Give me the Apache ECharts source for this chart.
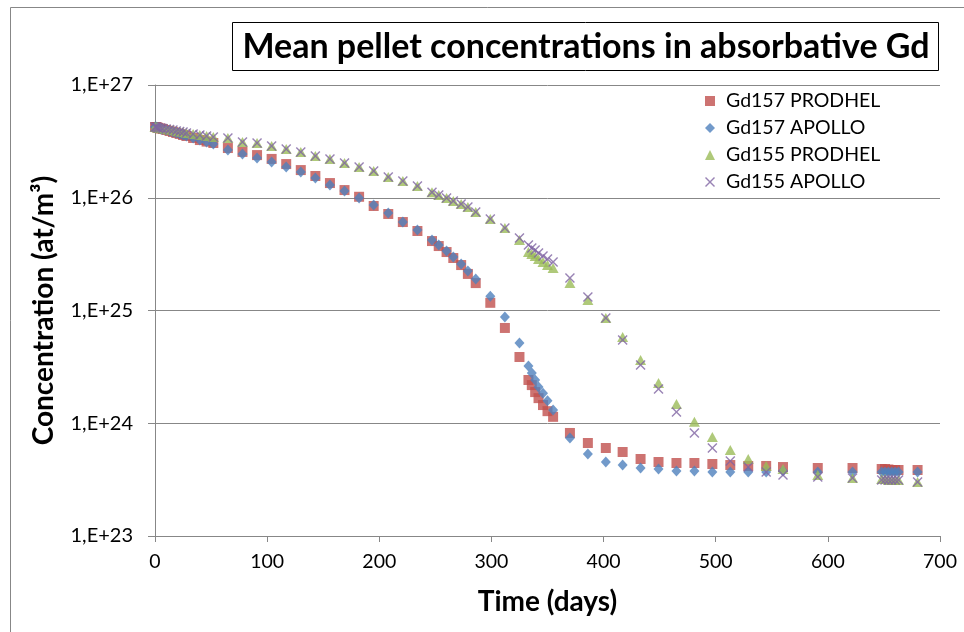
<!DOCTYPE html>
<html>
<head>
<meta charset="utf-8">
<script src="https://cdn.jsdelivr.net/npm/echarts@6/dist/echarts.min.js"></script>
<style>
  html, body { margin: 0; padding: 0; background: #fff; }
  #chart { width: 964px; height: 632px; }
</style>
</head>
<body>
<div id="chart"></div>
<script>
// time steps (days), shared by the four series
var days = [0, 1, 2, 3, 5, 7, 10, 13, 16, 19, 22, 25, 28, 34, 40, 46, 52,
  65, 78, 91, 104, 117, 130, 143, 156, 169, 182, 195, 208, 221, 234, 247,
  253, 260, 266, 273, 279, 286, 299, 312, 325,
  333, 336, 339, 342, 346, 350, 355,
  370, 386, 402, 417, 433, 449, 465, 481, 497, 513, 529, 545, 560,
  591, 622, 648, 651, 654, 657, 660, 663, 680];

var gd157Prodhel = [4.24e26, 4.24e26, 4.20e26, 4.16e26, 4.11e26, 4.07e26, 3.99e26, 3.91e26, 3.83e26, 3.75e26, 3.68e26, 3.60e26, 3.53e26, 3.39e26, 3.25e26, 3.15e26, 3.06e26,
  2.76e26, 2.55e26, 2.39e26, 2.21e26, 1.99e26, 1.76e26, 1.56e26, 1.35e26, 1.17e26, 1.02e26, 8.45e25, 7.18e25, 6.09e25, 5.07e25, 4.13e25,
  3.73e25, 3.30e25, 2.92e25, 2.53e25, 2.11e25, 1.75e25, 1.17e25, 7.00e24, 3.87e24,
  2.42e24, 2.18e24, 1.89e24, 1.67e24, 1.45e24, 1.28e24, 1.14e24,
  8.20e23, 6.68e23, 6.03e23, 5.56e23, 4.82e23, 4.53e23, 4.44e23, 4.44e23, 4.35e23, 4.26e23, 4.18e23, 4.18e23, 4.09e23,
  4.01e23, 4.01e23, 3.93e23, 3.93e23, 3.89e23, 3.85e23, 3.85e23, 3.85e23, 3.85e23];

var gd157Apollo = [4.24e26, 4.24e26, 4.20e26, 4.16e26, 4.07e26, 4.03e26, 3.99e26, 3.91e26, 3.83e26, 3.75e26, 3.68e26, 3.60e26, 3.53e26, 3.39e26, 3.25e26, 3.12e26, 3.00e26,
  2.65e26, 2.44e26, 2.25e26, 2.08e26, 1.87e26, 1.69e26, 1.50e26, 1.30e26, 1.15e26, 9.95e25, 8.62e25, 7.32e25, 6.09e25, 5.18e25, 4.22e25,
  3.81e25, 3.37e25, 2.98e25, 2.58e25, 2.24e25, 1.90e25, 1.34e25, 8.76e24, 5.15e24,
  3.22e24, 2.79e24, 2.42e24, 2.10e24, 1.85e24, 1.58e24, 1.31e24,
  7.40e23, 5.34e23, 4.53e23, 4.26e23, 4.01e23, 3.93e23, 3.77e23, 3.77e23, 3.69e23, 3.69e23, 3.69e23, 3.69e23, 3.77e23,
  3.69e23, 3.69e23, 3.69e23, 3.69e23, 3.69e23, 3.69e23, 3.69e23, 3.69e23, 3.69e23];

var gd155Prodhel = [4.24e26, 4.24e26, 4.20e26, 4.16e26, 4.16e26, 4.11e26, 4.07e26, 4.03e26, 3.99e26, 3.91e26, 3.87e26, 3.83e26, 3.75e26, 3.68e26, 3.60e26, 3.53e26, 3.46e26,
  3.39e26, 3.12e26, 3.06e26, 2.88e26, 2.71e26, 2.55e26, 2.35e26, 2.21e26, 2.03e26, 1.87e26, 1.73e26, 1.53e26, 1.41e26, 1.27e26, 1.12e26,
  1.06e26, 9.95e25, 9.36e25, 8.80e25, 8.28e25, 7.47e25, 6.48e25, 5.39e25, 4.22e25,
  3.30e25, 3.17e25, 3.04e25, 2.86e25, 2.69e25, 2.53e25, 2.38e25,
  1.75e25, 1.24e25, 8.58e24, 5.82e24, 3.64e24, 2.28e24, 1.48e24, 1.03e24, 7.55e23, 5.79e23, 4.82e23, 4.18e23, 3.93e23,
  3.48e23, 3.27e23, 3.20e23, 3.20e23, 3.14e23, 3.14e23, 3.14e23, 3.14e23, 3.01e23];

var gd155Apollo = [4.24e26, 4.24e26, 4.20e26, 4.16e26, 4.16e26, 4.11e26, 4.07e26, 4.03e26, 3.99e26, 3.91e26, 3.87e26, 3.83e26, 3.75e26, 3.68e26, 3.60e26, 3.53e26, 3.46e26,
  3.39e26, 3.12e26, 3.06e26, 2.88e26, 2.71e26, 2.55e26, 2.35e26, 2.21e26, 2.03e26, 1.87e26, 1.73e26, 1.53e26, 1.41e26, 1.27e26, 1.12e26,
  1.06e26, 9.95e25, 9.36e25, 8.80e25, 8.28e25, 7.47e25, 6.48e25, 5.39e25, 4.40e25,
  3.81e25, 3.58e25, 3.44e25, 3.24e25, 3.04e25, 2.86e25, 2.69e25,
  1.94e25, 1.32e25, 8.58e24, 5.47e24, 3.29e24, 2.01e24, 1.26e24, 8.20e23, 6.03e23, 4.63e23, 4.09e23, 3.69e23, 3.48e23,
  3.34e23, 3.27e23, 3.14e23, 3.14e23, 3.14e23, 3.14e23, 3.14e23, 3.14e23, 3.01e23];

var seriesNames = ["Gd157 PRODHEL", "Gd157 APOLLO", "Gd155 PRODHEL", "Gd155 APOLLO"];
var titleText = "Mean pellet concentrations in absorbative Gd";

var FONT = "Lato, 'Open Sans', sans-serif";
var GRID = "#878787";
// filled cross, used for the APOLLO Gd155 markers
var CROSS = "path://M0,1L1,0L5,4L9,0L10,1L6,5L10,9L9,10L5,6L1,10L0,9L4,5Z";

function pairs(vals) {
  return days.map(function (d, i) { return [d, vals[i]]; });
}

var chart = echarts.init(document.getElementById("chart"));
var option = {
  animation: false,
  backgroundColor: "#fff",
  grid: { left: 155, right: 24, top: 85, bottom: 96 },
  graphic: [
    { type: "rect", silent: true, z: -10,
      shape: { x: 10.5, y: 7.5, width: 1000, height: 700 },
      style: { fill: "none", stroke: GRID, lineWidth: 1 } },
    { type: "rect", silent: true,
      shape: { x: 232.5, y: 22.5, width: 706, height: 48 },
      style: { fill: "#fff", stroke: "#000", lineWidth: 1 } },
    { type: "text", silent: true,
      style: { x: 586, y: 47, text: titleText, align: "center", verticalAlign: "middle",
        font: "bold 34px " + FONT, fill: "#000" } }
  ],
  legend: {
    orient: "vertical",
    left: 700,
    top: 86,
    itemWidth: 10,
    itemHeight: 10,
    itemGap: 7,
    textStyle: { fontFamily: FONT, fontSize: 19.5, color: "#000", lineHeight: 20, padding: [0, 0, 0, 6] },
    data: [
      { name: seriesNames[0], icon: "rect" },
      { name: seriesNames[1], icon: "diamond" },
      { name: seriesNames[2], icon: "triangle" },
      { name: seriesNames[3], icon: CROSS }
    ]
  },
  xAxis: {
    type: "value",
    min: 0,
    max: 700,
    interval: 100,
    name: "Time (days)",
    nameLocation: "middle",
    nameGap: 52,
    nameTextStyle: { fontFamily: FONT, fontSize: 28, fontWeight: "bold", color: "#000" },
    axisLine: { show: true, lineStyle: { color: GRID } },
    axisTick: { show: true, inside: false, length: 6, lineStyle: { color: GRID } },
    axisLabel: { fontFamily: FONT, fontSize: 19.5, color: "#000", margin: 16 },
    splitLine: { show: false }
  },
  yAxis: {
    type: "log",
    logBase: 10,
    min: 1e23,
    max: 1e27,
    name: "Concentration (at/m³)",
    nameLocation: "middle",
    nameGap: 97,
    nameTextStyle: { fontFamily: FONT, fontSize: 28, fontWeight: "bold", color: "#000" },
    axisLine: { show: true, lineStyle: { color: GRID } },
    axisTick: { show: true, inside: false, length: 7, lineStyle: { color: GRID } },
    axisLabel: {
      fontFamily: FONT, fontSize: 20, color: "#000", margin: 22,
      formatter: function (v) { return "1,E+" + Math.round(Math.log10(v)); }
    },
    splitLine: { show: true, lineStyle: { color: GRID, width: 1 } }
  },
  series: [
    { name: seriesNames[0], type: "scatter", symbol: "rect", symbolSize: 10,
      itemStyle: { color: "#c0504d" }, data: pairs(gd157Prodhel) },
    { name: seriesNames[1], type: "scatter", symbol: "diamond", symbolSize: [10, 11],
      itemStyle: { color: "#4f81bd" }, data: pairs(gd157Apollo) },
    { name: seriesNames[2], type: "scatter", symbol: "triangle", symbolSize: [11, 10],
      itemStyle: { color: "#9bbb59" }, data: pairs(gd155Prodhel) },
    { name: seriesNames[3], type: "scatter", symbol: CROSS, symbolSize: 10,
      itemStyle: { color: "#8064a2" }, data: pairs(gd155Apollo) }
  ]
};
chart.setOption(option);
</script>
</body>
</html>
